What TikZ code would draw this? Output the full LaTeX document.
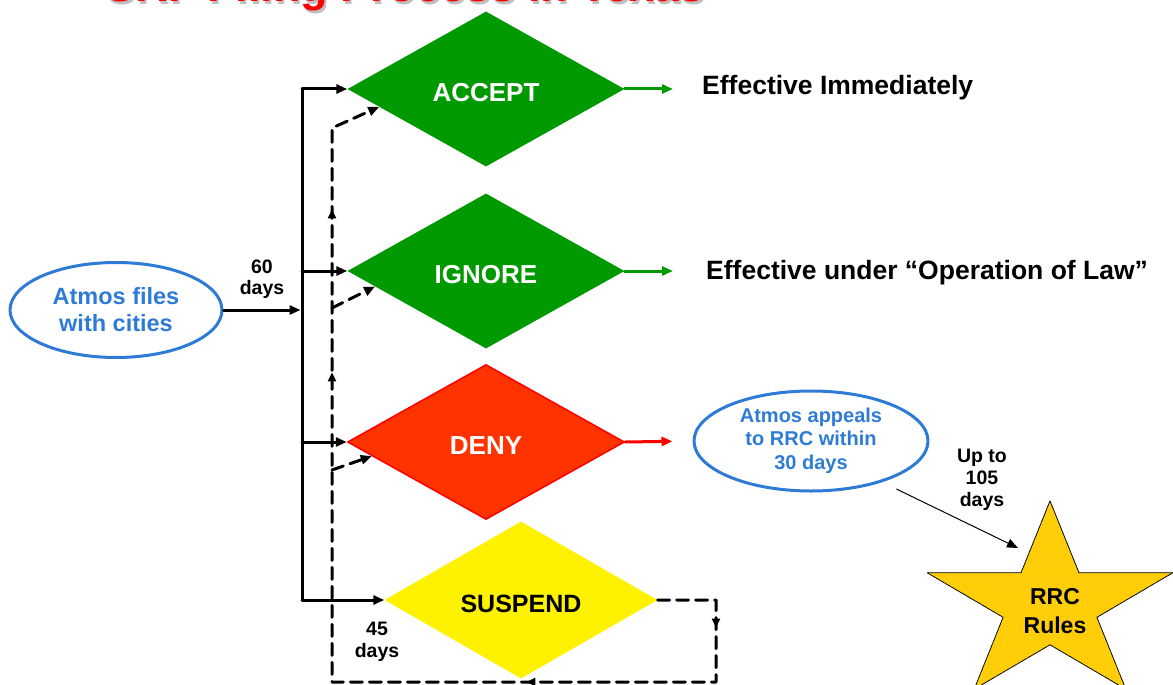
\documentclass[tikz,border=0pt]{standalone}
\usepackage{fontspec}
\setmainfont{Liberation Sans}
\usetikzlibrary{shapes.geometric,arrows.meta,decorations.markings,patterns,calc}

\definecolor{okgreen}{HTML}{009900}
\definecolor{denyred}{HTML}{FF3300}
\definecolor{atmosblue}{HTML}{2E7BD6}
\definecolor{rrcgold}{HTML}{FFCC00}
\definecolor{rrcdot}{HTML}{FFE680}

\tikzset{
  decision/.style={diamond, minimum width=277pt, minimum height=155pt, inner sep=0pt,
    text height=25pt, text=white, font=\fontsize{26}{30}\selectfont\bfseries},
  bubble/.style={ellipse, draw=atmosblue, line width=3pt, inner sep=0pt, text=atmosblue, align=center},
  flow/.style={line width=3pt},
  feedback/.style={line width=3pt, dash pattern=on 12pt off 7pt},
  smalltxt/.style={align=center, font=\fontsize{19.5}{21.5}\selectfont\bfseries},
}

\begin{document}
\begin{tikzpicture}[x=1pt, y=-1pt, line join=round, line cap=round, >={Triangle[length=11pt,width=9pt]}, font=\bfseries]

  \clip (0,0) rectangle (1173,685);
  % title, cut off at the top
  \node[anchor=base west, text=gray!50, font=\fontsize{45}{50}\selectfont\bfseries] (titleshadow) at (104,4.5) {SRF Filing Process in Texas};
  \node[anchor=base west, text=red, font=\fontsize{45}{50}\selectfont\bfseries] (title) at (102,2) {SRF Filing Process in Texas};

  % filing
  \node[bubble, minimum width=212pt, minimum height=95pt, font=\fontsize{23.5}{27}\selectfont\bfseries] (files) at (116,310) {Atmos files\\with cities};
  \node[smalltxt] (sixty) at (262,279) {60\\days};

  % the four city decisions
  \node[decision, fill=okgreen] (accept) at (486,89) {ACCEPT};
  \node[decision, fill=okgreen] (ignore) at (486,271) {IGNORE};
  \node[decision, fill=denyred, draw=red, line width=1.5pt] (deny) at (486,442) {DENY};
  \node[decision, fill=yellow, text=black, minimum width=273pt, minimum height=157pt,
    font=\fontsize{25}{30}\selectfont\bfseries] (suspend) at (521,600) {SUSPEND};
  \node[smalltxt] (fortyfive) at (377,642) {45\\days};

  % outcomes
  \node[anchor=west, inner sep=0pt, font=\fontsize{26.5}{30}\selectfont\bfseries] (immediate) at (702,88) {Effective Immediately};
  \node[anchor=west, inner sep=0pt, font=\fontsize{26.5}{30}\selectfont\bfseries] (law) at (706,273) {Effective under “Operation of Law”};
  \node[bubble, minimum width=234pt, minimum height=100pt, font=\fontsize{20}{24.5}\selectfont\bfseries] (appeal) at (811,441) {\raisebox{-2pt}{Atmos appeals}\\to RRC within\\30 days};
  \node[smalltxt, font=\fontsize{19.5}{22}\selectfont\bfseries] (wait) at (982,480) {Up to\\105\\days};

  % RRC star
  \begin{scope}[shift={(1050,605)}, yscale=-0.807]
    \draw[line width=0.8pt, fill=rrcgold, postaction={pattern=dots, pattern color=rrcdot}]
      (90:129) \foreach \k in {1,...,9}{ -- ({90+36*\k}:{ifthenelse(isodd(\k),49.3,129)}) } -- cycle;
  \end{scope}
  \node[align=center, font=\fontsize{23}{29}\selectfont\bfseries] (rrc) at (1055,611) {RRC\\Rules};
  \coordinate (rrcin) at (1018,548);

  % solid connectors
  \coordinate (bus) at (302,0);
  \draw[flow] (bus |- accept.west) -- (bus |- suspend.west);
  \draw[flow, ->, shorten >=1.5pt] (files.east) -- (bus |- files.east);
  \foreach \d in {accept, ignore, deny, suspend} {
    \draw[flow, ->] (bus |- \d.west) -- (\d.west);
  }
  \draw[flow, okgreen, ->, shorten >=29pt] (accept.east) -- (accept.east -| immediate.west);
  \draw[flow, okgreen, ->, shorten >=33pt] (ignore.east) -- (ignore.east -| law.west);
  \draw[flow, red, ->, shorten >=20pt] (deny.east) -- (appeal.west);
  \draw[line width=1pt, ->, shorten <=16pt] (appeal.-30) -- (rrcin);

  % suspension loop back to the decisions
  \coordinate (acceptfb) at (332,128);
  \coordinate (ignorefb) at (332,308);
  \coordinate (denyfb) at (332,470);
  \coordinate (loopx) at (716,0);
  \coordinate (loopy) at (0,682);
  \draw[feedback, ->, postaction={decorate}, decoration={markings,
      mark=at position 86pt with {\arrow{Triangle[length=9pt,width=8pt]}},
      mark=at position 330pt with {\arrow{Triangle[length=9pt,width=8pt]}},
      mark=at position 834pt with {\arrow{Triangle[length=9pt,width=8pt]}},
      mark=at position 997pt with {\arrow{Triangle[length=9pt,width=8pt]}}}]
    (suspend.east) -- (suspend.east -| loopx) -- (loopx |- loopy) -- (acceptfb |- loopy)
    -- (acceptfb) -- ($(accept.west)!0.23!(accept.south)$);
  \draw[feedback, ->] (ignorefb) -- ($(ignore.west)!0.2!(ignore.south)$);
  \draw[feedback, ->] (denyfb) -- ($(deny.west)!0.18!(deny.south)$);

\end{tikzpicture}
\end{document}
